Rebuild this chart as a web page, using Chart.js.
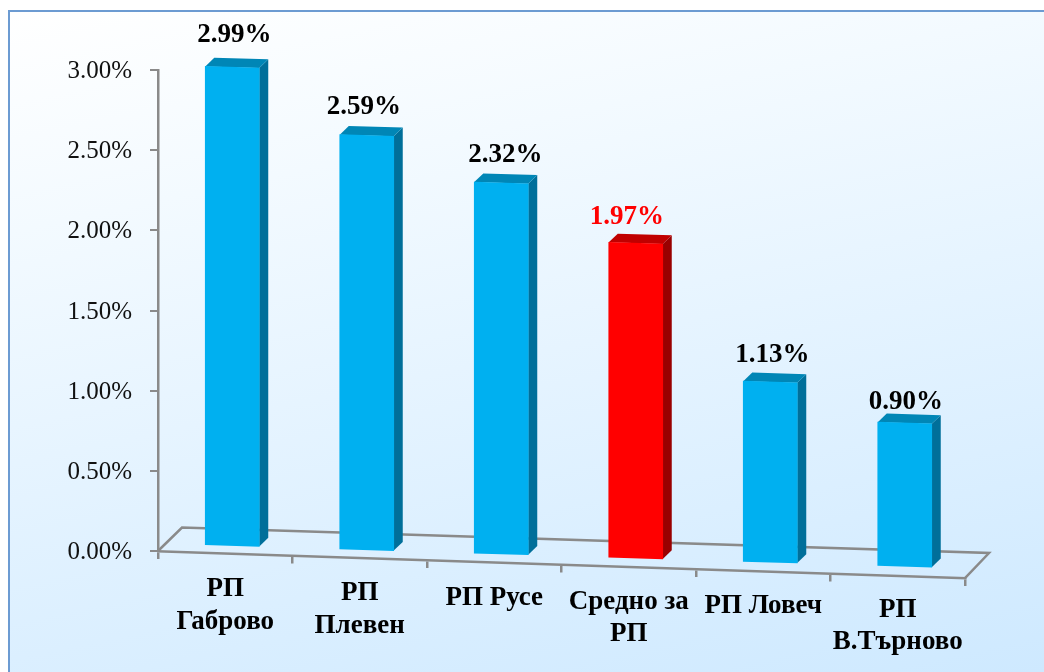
<!DOCTYPE html>
<html><head><meta charset="utf-8">
<style>
html,body{margin:0;padding:0;background:#fff;width:1044px;height:672px;overflow:hidden}
#frame{position:absolute;left:8px;top:10px;width:1036px;height:662px;box-sizing:border-box;border-left:2px solid #6c9bd2;border-top:2px solid #6c9bd2;background:linear-gradient(168deg,#ffffff 0%,#f3faff 25%,#cee9ff 100%)}
canvas{position:absolute;left:0;top:0}
</style>
<script src="https://cdn.jsdelivr.net/npm/chart.js@4"></script>
</head><body>
<div id="frame"></div>
<canvas id="c" width="1044" height="672"></canvas>
<script>
const categories = [["РП","Габрово"],["РП","Плевен"],"РП Русе",["Средно за","РП"],"РП Ловеч",["РП","В.Търново"]];
const values = [2.99,2.59,2.32,1.97,1.13,0.90];
const valueLabels = ["2.99%","2.59%","2.32%","1.97%","1.13%","0.90%"];
const frontColors = ["#00B0F0","#00B0F0","#00B0F0","#FF0000","#00B0F0","#00B0F0"];
const sideColors = ["#006F9A","#006F9A","#006F9A","#990000","#006F9A","#006F9A"];
const topColors = ["#0086B6","#0086B6","#0086B6","#C00000","#0086B6","#0086B6"];
const labelColors = ["#000","#000","#000","#FF0000","#000","#000"];
const labelShiftX = [2,-3,4,-9,2,1];
const labelShiftY = [-19,-15,-15,-13,-14,-8];

const AXIS = "#8a8a8a";
const floorSlope = 0.0335, barSlope = 0.0308;
const depth = {x:9,y:-9}, floorDepth = {x:24,y:-23.5};

class TiltedCategory extends Chart.CategoryScale {
  static id = 'tiltedCategory';
  static defaults = Chart.CategoryScale.defaults;
  _tilt(){ const c=this.ctx; c.transform(1,floorSlope,0,1,0,-floorSlope*this.left); }
  drawGrid(a){ const c=this.ctx; c.save(); this._tilt(); super.drawGrid(a); c.restore(); }
  drawBorder(){ const c=this.ctx; c.save(); this._tilt(); super.drawBorder(); c.restore(); }
  _computeLabelItems(a){
    const items = super._computeLabelItems(a);
    items.forEach(it=>{ const t=it.options.translation; t[1]+= barSlope*(t[0]-this.left); });
    return items;
  }
}
Chart.register(TiltedCategory);

const bars3d = {
  id:'bars3d',
  beforeDatasetsDraw(chart){
    const c=chart.ctx, xs=chart.scales.x, y0=chart.scales.y.getPixelForValue(0);
    const L=xs.left,R=xs.right,yR=y0+floorSlope*(R-L);
    c.save();
    c.strokeStyle=AXIS;c.lineWidth=2.5;c.lineJoin='miter';
    c.beginPath();
    c.moveTo(L,y0);c.lineTo(L+floorDepth.x,y0+floorDepth.y);
    c.lineTo(R+floorDepth.x,yR+floorDepth.y-1.5);c.lineTo(R,yR);
    c.stroke();
    c.restore();
    c.save();
    c.transform(1,barSlope,0,1,7,-barSlope*205-5);
    chart.getDatasetMeta(0).data.forEach((b,i)=>{
      const l=b.x-b.width/2,r=b.x+b.width/2;
      c.fillStyle=sideColors[i];
      c.beginPath();c.moveTo(r,b.y);c.lineTo(r+depth.x,b.y+depth.y);c.lineTo(r+depth.x,b.base+depth.y);c.lineTo(r,b.base);c.closePath();c.fill();
      c.fillStyle=topColors[i];
      c.beginPath();c.moveTo(l,b.y);c.lineTo(l+depth.x,b.y+depth.y);c.lineTo(r+depth.x,b.y+depth.y);c.lineTo(r,b.y);c.closePath();c.fill();
    });
  },
  afterDatasetsDraw(chart){
    const c=chart.ctx;
    c.restore();
    c.save();
    c.font="bold 27px 'Liberation Serif'";
    c.textAlign='center';c.textBaseline='bottom';
    chart.getDatasetMeta(0).data.forEach((b,i)=>{
      const x=b.x+7+labelShiftX[i];
      const y=b.y+barSlope*(b.x-198)-5+labelShiftY[i];
      c.fillStyle=labelColors[i];
      c.fillText(valueLabels[i],x,y);
    });
    c.restore();
  }
};

new Chart(document.getElementById('c'),{
  type:'bar',
  data:{labels:categories,datasets:[{data:values,backgroundColor:frontColors,borderWidth:0,barThickness:54,clip:false}]},
  plugins:[bars3d],
  options:{
    responsive:false,animation:false,
    layout:{padding:{left:0,right:79,top:70,bottom:0}},
    plugins:{legend:{display:false},tooltip:{enabled:false}},
    scales:{
      x:{type:'tiltedCategory',
        afterFit(s){s.height=121;},
        grid:{display:true,drawOnChartArea:false,color:AXIS,lineWidth:2.5,tickLength:8,tickColor:AXIS},
        border:{display:true,color:AXIS,width:2.5},
        ticks:{maxRotation:0,autoSkip:false,padding:12,color:'#000',font:{family:"'Liberation Serif'",size:27,weight:'bold',lineHeight:1.2}}
      },
      y:{min:0,max:3,
        afterFit(s){s.width=158;},
        grid:{display:true,drawOnChartArea:false,color:AXIS,lineWidth:2,tickLength:8,tickColor:AXIS},
        border:{display:true,color:AXIS,width:2.5},
        ticks:{stepSize:0.5,padding:18,labelOffset:1.5,color:'#111',font:{family:"'Liberation Serif'",size:25},callback:v=>v.toFixed(2)+'%'}
      }
    }
  }
});
</script>
</body></html>
